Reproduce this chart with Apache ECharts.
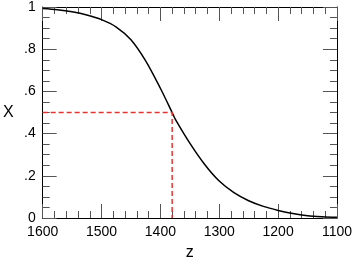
<!DOCTYPE html>
<html>
<head>
<meta charset="UTF-8">
<title>X vs z</title>
<script src="https://cdn.jsdelivr.net/npm/echarts@6/dist/echarts.min.js"></script>
<style>
  html, body { margin: 0; padding: 0; background: #fff; }
  #chart { width: 355px; height: 266px; }
</style>
</head>
<body>
<div id="chart"></div>
<script>
// curve (ascending z)
const zValues = [1100, 1125, 1150, 1175, 1200, 1225, 1250, 1275, 1300, 1325, 1350, 1375, 1380, 1400, 1425, 1450, 1475, 1500, 1525, 1550, 1575, 1600];
const xValues = [0.003, 0.006, 0.011, 0.021, 0.036, 0.055, 0.082, 0.12, 0.175, 0.255, 0.355, 0.47, 0.5, 0.615, 0.745, 0.845, 0.905, 0.94, 0.962, 0.977, 0.987, 0.993];
// red dashed guide at X = 0.5
const guideZ = [1600, 1380, 1380];
const guideX = [0.5, 0.5, 0];
const yTickLabels = { 0: '0', 0.2: '.2', 0.4: '.4', 0.6: '.6', 0.8: '.8', 1: '1' };

const font = 'Liberation Sans, Arial, Helvetica, sans-serif';
const tickColor = '#555';

function xAxisCfg(pos, show) {
  return {
    type: 'value', position: pos, min: 1100, max: 1600, interval: 100, inverse: true,
    name: show ? 'z' : '', nameLocation: 'middle', nameGap: 27,
    nameTextStyle: { fontFamily: font, fontSize: 16, color: '#000' },
    axisLine: { show: true, onZero: false, lineStyle: { color: '#000', width: 1 } },
    axisTick: { show: true, inside: true, length: 14, lineStyle: { color: tickColor } },
    minorTick: { show: true, splitNumber: 5, length: 7, lineStyle: { color: tickColor } },
    axisLabel: {
      show: show, margin: 7, fontFamily: font, fontSize: 14, color: '#000',
      formatter: v => String(v)
    },
    splitLine: { show: false }
  };
}

function yAxisCfg(pos, show) {
  return {
    type: 'value', position: pos, min: 0, max: 1, interval: 0.2,
    name: show ? 'X' : '', nameLocation: 'middle', nameGap: 29, nameRotate: 0,
    nameTextStyle: { fontFamily: font, fontSize: 16, color: '#000' },
    axisLine: { show: true, onZero: false, lineStyle: { color: '#000', width: 1 } },
    axisTick: { show: true, inside: true, length: 14, lineStyle: { color: tickColor } },
    minorTick: { show: true, splitNumber: 4, length: 7, lineStyle: { color: tickColor } },
    axisLabel: {
      show: show, margin: 7, fontFamily: font, fontSize: 14, color: '#000',
      formatter: v => yTickLabels[Math.round(v * 10) / 10] ?? ''
    },
    splitLine: { show: false }
  };
}

const chart = echarts.init(document.getElementById('chart'));
chart.setOption({
  animation: false,
  grid: { left: 39, right: 16, top: 5, bottom: 37 },
  xAxis: [xAxisCfg('bottom', true), xAxisCfg('top', false)],
  yAxis: [yAxisCfg('left', true), yAxisCfg('right', false)],
  series: [
    {
      type: 'line', smooth: 0.3, symbol: 'none',
      data: zValues.map((z, i) => [z, xValues[i]]),
      lineStyle: { color: '#000', width: 1.5 }
    },
    {
      type: 'line', symbol: 'none',
      data: guideZ.map((z, i) => [z, guideX[i]]),
      lineStyle: { color: '#e8312f', width: 1.5, type: [5, 3] }
    }
  ]
});
</script>
</body>
</html>
